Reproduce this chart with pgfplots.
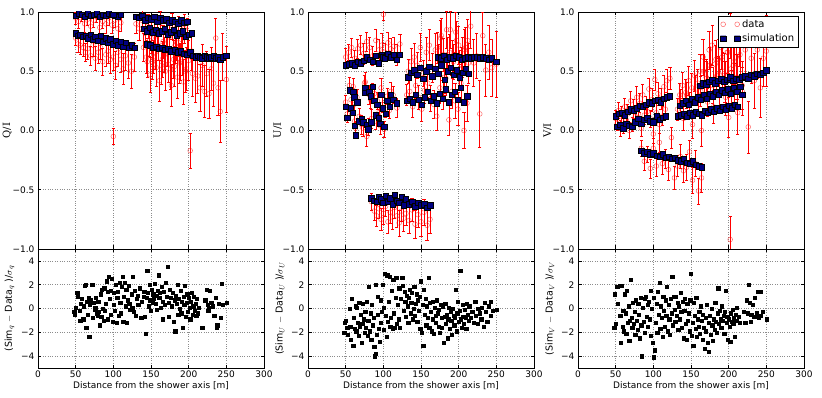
\documentclass[border=0pt]{standalone}
\usepackage{fontspec}
\setmainfont{DejaVu Sans}
\newfontfamily\serifl{DejaVu Serif}
\usepackage{pgfplots}
\usepackage{pgfplotstable}
\pgfplotsset{compat=1.18}
\definecolor{navy}{RGB}{0,0,128}

% Q/I : x, simulation, data, error
\pgfplotstableread{
x s d e
50 0.97 0.95 0.05
54 0.99 0.92 0.06
58 0.98 0.97 0.05
62 0.96 0.90 0.07
66 0.99 0.94 0.05
70 0.97 0.88 0.08
74 0.98 0.93 0.06
78 0.99 0.96 0.05
82 0.96 0.87 0.07
86 0.98 0.92 0.06
90 0.97 0.90 0.08
94 0.99 0.95 0.06
98 0.98 0.89 0.07
102 0.97 0.93 0.06
106 0.96 0.86 0.08
110 0.98 0.91 0.07
100 0.98 -0.05 0.07
50 0.82 0.78 0.06
53 0.80 0.73 0.07
56 0.81 0.72 0.08
60 0.79 0.70 0.07
63 0.80 0.66 0.08
66 0.78 0.69 0.09
70 0.81 0.63 0.08
73 0.77 0.72 0.09
76 0.79 0.61 0.10
80 0.76 0.66 0.09
83 0.80 0.70 0.10
86 0.75 0.58 0.11
90 0.78 0.64 0.10
93 0.74 0.67 0.10
96 0.77 0.60 0.12
100 0.73 0.62 0.11
103 0.76 0.55 0.12
106 0.72 0.66 0.12
110 0.75 0.60 0.11
113 0.71 0.52 0.13
116 0.74 0.63 0.12
120 0.70 0.57 0.13
124 0.72 0.50 0.14
128 0.70 0.62 0.12
130 0.96 0.90 0.08
134 0.95 0.86 0.10
138 0.97 0.93 0.09
142 0.93 0.82 0.12
146 0.95 0.88 0.10
150 0.94 0.78 0.13
154 0.96 0.85 0.11
158 0.92 0.80 0.12
162 0.95 0.91 0.10
166 0.93 0.75 0.14
170 0.94 0.84 0.12
174 0.91 0.79 0.13
178 0.93 0.88 0.11
182 0.92 0.72 0.15
186 0.90 0.83 0.13
190 0.93 0.77 0.14
194 0.91 0.86 0.12
198 0.92 0.80 0.15
140 0.86 0.70 0.12
144 0.84 0.62 0.14
148 0.87 0.76 0.13
152 0.83 0.58 0.15
156 0.85 0.66 0.14
160 0.82 0.72 0.13
164 0.84 0.55 0.16
168 0.86 0.64 0.15
172 0.81 0.68 0.14
176 0.83 0.52 0.17
180 0.85 0.60 0.16
184 0.80 0.74 0.15
188 0.82 0.57 0.17
192 0.84 0.63 0.16
196 0.79 0.50 0.18
200 0.81 0.59 0.17
204 0.82 0.67 0.16
145 0.73 0.58 0.13
149 0.72 0.47 0.15
153 0.70 0.62 0.14
157 0.71 0.53 0.16
161 0.69 0.42 0.17
165 0.70 0.60 0.15
169 0.68 0.50 0.16
173 0.69 0.56 0.15
177 0.67 0.38 0.18
181 0.68 0.54 0.17
185 0.66 0.45 0.18
189 0.67 0.58 0.16
193 0.65 0.41 0.19
197 0.64 0.52 0.18
202 0.66 -0.17 0.15
205 0.63 0.48 0.19
209 0.62 0.44 0.20
212 0.63 0.46 0.15
215 0.62 0.36 0.20
218 0.61 0.55 0.18
221 0.63 0.33 0.22
224 0.62 0.48 0.19
227 0.61 0.31 0.21
230 0.62 0.52 0.18
233 0.63 0.40 0.20
236 0.61 0.78 0.17
239 0.62 0.36 0.23
242 0.60 0.16 0.26
245 0.62 0.62 0.20
250 0.63 0.43 0.28
}\qtab

% U/I
\pgfplotstableread{
x s d e
50 0.55 0.62 0.07
54 0.56 0.66 0.07
58 0.57 0.70 0.08
62 0.55 0.61 0.07
66 0.58 0.69 0.08
70 0.57 0.72 0.08
74 0.59 0.65 0.09
78 0.62 0.75 0.08
82 0.60 0.70 0.09
86 0.58 0.63 0.08
90 0.63 0.76 0.09
94 0.57 0.68 0.09
98 0.64 0.72 0.10
100 0.62 0.98 0.05
102 0.61 0.66 0.08
106 0.65 0.74 0.09
110 0.62 0.69 0.09
114 0.64 0.71 0.08
118 0.60 0.64 0.09
122 0.64 0.73 0.08
50 0.20 0.24 0.06
52 0.11 0.14 0.07
55 0.34 0.38 0.07
57 0.19 0.26 0.07
59 0.15 0.20 0.06
60 0.33 0.37 0.07
61 0.28 0.22 0.08
62 0.04 0.08 0.06
63 -0.04 0.02 0.06
65 0.24 0.28 0.07
68 0.08 0.12 0.07
71 0.10 0.05 0.08
73 0.07 0.02 0.07
75 0.32 0.40 0.07
76 0.36 0.41 0.08
78 0.05 -0.05 0.08
80 0.01 0.03 0.07
81 0.33 0.30 0.08
83 0.29 0.26 0.07
84 0.07 0.10 0.08
86 0.37 0.33 0.07
88 0.25 0.31 0.08
90 0.13 0.08 0.07
92 0.22 0.25 0.07
94 0.11 0.15 0.08
96 0.06 0.04 0.07
97 0.30 0.36 0.08
99 0.19 0.22 0.07
101 0.03 0.01 0.07
103 0.14 0.18 0.07
105 0.25 0.29 0.07
108 0.20 0.17 0.07
110 0.30 0.33 0.08
113 0.26 0.30 0.07
118 0.23 0.19 0.08
84 -0.57 -0.60 0.07
88 -0.59 -0.68 0.08
91 -0.60 -0.72 0.09
94 -0.56 -0.66 0.08
97 -0.58 -0.75 0.09
100 -0.61 -0.70 0.09
103 -0.55 -0.64 0.08
106 -0.60 -0.77 0.10
109 -0.57 -0.69 0.09
112 -0.62 -0.73 0.10
115 -0.54 -0.65 0.09
118 -0.59 -0.72 0.10
121 -0.61 -0.78 0.11
124 -0.56 -0.68 0.09
127 -0.63 -0.74 0.11
130 -0.58 -0.70 0.10
134 -0.62 -0.76 0.11
138 -0.60 -0.67 0.10
142 -0.64 -0.79 0.12
146 -0.61 -0.71 0.11
150 -0.63 -0.77 0.12
154 -0.62 -0.69 0.11
158 -0.65 -0.80 0.13
162 -0.63 -0.75 0.12
131 0.25 0.30 0.09
135 0.27 0.33 0.10
139 0.24 0.20 0.09
143 0.30 0.38 0.11
147 0.26 0.28 0.10
151 0.22 0.18 0.10
155 0.28 0.34 0.11
159 0.33 0.40 0.12
163 0.25 0.27 0.11
167 0.29 0.22 0.12
171 0.23 0.12 0.12
175 0.31 0.36 0.13
179 0.27 0.30 0.12
183 0.35 0.44 0.14
187 0.24 0.09 0.13
191 0.30 0.33 0.14
195 0.33 0.25 0.15
199 0.26 0.18 0.14
203 0.36 0.40 0.16
207 0.24 0.00 0.15
211 0.29 0.23 0.15
133 0.45 0.50 0.10
137 0.49 0.58 0.11
141 0.51 0.62 0.12
145 0.47 0.55 0.11
149 0.53 0.70 0.12
153 0.44 0.48 0.11
157 0.50 0.66 0.13
161 0.54 0.72 0.13
165 0.46 0.53 0.12
169 0.52 0.68 0.14
173 0.48 0.60 0.13
177 0.55 0.80 0.15
181 0.43 0.45 0.14
185 0.50 0.64 0.15
189 0.53 0.85 0.16
193 0.47 0.58 0.15
197 0.51 0.76 0.16
201 0.45 0.52 0.16
205 0.49 0.62 0.17
209 0.52 0.70 0.17
213 0.48 0.57 0.17
172 0.62 0.70 0.13
176 0.61 0.78 0.15
180 0.63 0.64 0.14
184 0.60 0.85 0.16
188 0.62 0.66 0.15
192 0.61 0.60 0.16
196 0.63 0.83 0.17
200 0.62 0.72 0.16
204 0.60 0.52 0.18
208 0.61 0.68 0.17
212 0.62 0.76 0.18
216 0.61 0.88 0.19
220 0.62 0.57 0.20
224 0.62 0.63 0.19
228 0.61 0.14 0.28
232 0.62 0.80 0.20
236 0.61 0.51 0.22
240 0.60 0.66 0.23
244 0.61 0.53 0.24
250 0.58 0.56 0.28
}\utab

% V/I
\pgfplotstableread{
x s d e
50 0.12 0.10 0.07
54 0.14 0.17 0.07
58 0.15 0.12 0.08
62 0.13 0.20 0.07
66 0.16 0.14 0.08
70 0.18 0.25 0.08
74 0.17 0.18 0.08
78 0.19 0.28 0.09
82 0.21 0.23 0.08
86 0.20 0.30 0.09
90 0.22 0.20 0.09
94 0.24 0.35 0.09
98 0.23 0.26 0.10
102 0.25 0.43 0.09
106 0.26 0.31 0.10
110 0.24 0.27 0.09
114 0.27 0.37 0.10
118 0.28 0.42 0.10
122 0.29 0.44 0.09
52 0.03 0.06 0.06
56 0.05 0.02 0.07
60 0.02 0.04 0.06
64 0.06 0.09 0.07
68 0.04 0.00 0.07
72 0.03 0.05 0.06
76 0.07 0.12 0.07
80 0.10 0.14 0.08
84 0.06 0.02 0.07
88 0.09 0.13 0.08
92 0.11 0.16 0.08
96 0.08 0.10 0.07
100 0.07 -0.03 0.08
104 0.12 0.15 0.08
108 0.09 0.05 0.07
112 0.11 0.12 0.08
116 0.12 0.18 0.08
84 -0.17 -0.15 0.07
88 -0.19 -0.26 0.08
92 -0.18 -0.20 0.07
96 -0.20 -0.32 0.08
100 -0.19 -0.15 0.08
104 -0.21 -0.30 0.09
108 -0.22 -0.10 0.08
112 -0.20 -0.28 0.09
116 -0.23 -0.24 0.08
120 -0.22 -0.33 0.09
124 -0.24 -0.06 0.09
128 -0.23 -0.40 0.10
132 -0.25 -0.30 0.09
136 -0.26 -0.22 0.10
140 -0.24 -0.34 0.10
144 -0.27 -0.31 0.11
148 -0.28 -0.18 0.10
152 -0.26 -0.42 0.11
156 -0.29 -0.28 0.11
160 -0.30 -0.51 0.11
164 -0.31 -0.40 0.12
132 0.12 0.18 0.09
136 0.13 0.25 0.10
140 0.14 0.10 0.10
144 0.12 0.30 0.11
148 0.15 0.22 0.10
152 0.13 0.05 0.12
156 0.16 0.35 0.12
160 0.14 0.27 0.11
164 0.13 0.00 0.13
168 0.17 0.38 0.13
172 0.15 0.24 0.12
176 0.18 0.42 0.14
180 0.16 0.20 0.14
184 0.19 0.46 0.15
188 0.17 0.30 0.15
192 0.20 0.50 0.16
196 0.18 0.28 0.15
200 0.21 0.11 0.17
204 0.19 0.35 0.16
208 0.22 0.40 0.17
212 0.20 0.15 0.18
135 0.21 0.30 0.10
139 0.23 0.38 0.11
143 0.25 0.32 0.11
147 0.22 0.42 0.12
151 0.27 0.36 0.12
155 0.24 0.46 0.13
159 0.28 0.40 0.12
163 0.26 0.33 0.13
167 0.30 0.50 0.14
171 0.27 0.44 0.14
175 0.31 0.55 0.15
179 0.29 0.38 0.15
183 0.33 0.60 0.16
187 0.30 0.47 0.16
191 0.34 0.62 0.17
195 0.32 0.41 0.17
199 0.35 0.66 0.18
203 0.31 0.52 0.18
207 0.36 0.58 0.19
211 0.33 0.45 0.19
215 0.37 0.64 0.20
218 0.30 0.33 0.20
162 0.38 0.50 0.14
166 0.40 0.62 0.15
170 0.39 0.45 0.15
174 0.41 0.68 0.16
178 0.43 0.72 0.17
182 0.40 0.56 0.16
186 0.42 0.60 0.17
190 0.44 0.70 0.18
194 0.41 0.48 0.17
198 0.43 0.66 0.18
202 0.43 -0.92 0.20
202 0.45 0.80 0.19
206 0.42 0.55 0.18
210 0.44 0.62 0.19
214 0.43 0.74 0.20
218 0.45 0.38 0.20
222 0.46 0.68 0.21
226 0.44 0.03 0.22
230 0.47 0.61 0.21
234 0.46 0.42 0.23
238 0.48 0.68 0.24
242 0.47 0.36 0.25
246 0.49 0.61 0.24
250 0.51 0.67 0.30
}\vtab

\pgfplotsset{
 base/.style={scale only axis, width=226pt, xmin=0, xmax=300, xtick={0,50,...,300},
  grid=major, grid style={dotted, black!45, line width=0.5pt},
  tick align=inside, major tick length=3.5pt, tick style={black, line width=0.5pt},
  axis line style={line width=0.7pt}, font=\fontsize{9}{10.5}\selectfont,
  ylabel style={font=\fontsize{9.5}{11}\selectfont},
  clip marker paths=true},
 top/.style={base, height=237pt, ymin=-1, ymax=1, ytick={-1,-0.5,0,0.5,1},
  yticklabels={−1.0,−0.5,0.0,0.5,1.0}, xticklabels={},
  ylabel style={font=\serifl\fontsize{10}{11}\selectfont}, ylabel shift=-6pt},
 bot/.style={base, height=119pt, ymin=-5, ymax=5, ytick={-4,-2,0,2,4},
  yticklabels={−4,−2,0,2,4}, xticklabels={0,50,100,150,200,250,300},
  xticklabel style={yshift=1pt},
  xlabel={Distance from the shower axis [m]}, xlabel style={yshift=3pt}},
 dat/.style={only marks, mark=o, mark size=2.4pt,
  mark options={draw=red, draw opacity=0.6, line width=0.5pt},
  error bars/.cd, y dir=both, y explicit,
  error bar style={red, line width=0.6pt},
  error mark options={red, rotate=90, mark size=1.6pt, line width=0.6pt}},
 sim/.style={only marks, mark=square*, mark size=2.7pt,
  mark options={fill=navy, draw=black, line width=0.3pt}},
 res/.style={only marks, mark=square*, mark size=1.6pt,
  mark options={fill=black, draw=black}},
}

\begin{document}
\begin{tikzpicture}
\useasboundingbox (0,0) rectangle (822pt,-398pt);

% ---------- Q ----------
\begin{axis}[top, at={(38pt,-12pt)}, anchor=north west, ylabel={Q/I}]
\addplot[dat] table[x=x, y=d, y error=e] {\qtab};
\addplot[sim] table[x=x, y=s] {\qtab};
\end{axis}
\begin{axis}[bot, at={(38pt,-249pt)}, anchor=north west,
 ylabel={(Sim$_q$ $-$ Data$_q$ )/$\sigma_q$}]
\addplot[res] coordinates {
(48,-0.3) (49,-0.5) (50,0.1) (52,1.3) (53,1.0) (55,-0.2) (56,-1.0) (57,0.4) (58,0.8) (60,-0.9)
(61,0.2) (62,1.9) (63,2.0) (64,-1.6) (65,0.6) (66,-0.5) (67,0.9) (68,-2.4) (69,0.3) (70,0.7)
(72,2.0) (73,-0.8) (74,0.5) (75,-0.1) (76,0.1) (77,0.9) (78,-0.4) (79,-0.6) (80,0.6) (81,-0.3)
(82,-1.4) (83,1.2) (84,-0.7) (85,1.6) (86,0.0) (87,-1.0) (88,1.7) (89,-0.2) (90,0.4) (91,2.3)
(92,-0.9) (93,1.4) (94,2.7) (95,0.8) (96,-0.5) (97,1.5) (98,2.5) (99,-1.1) (100,0.3) (101,1.3)
(102,-0.2) (103,2.0) (104,-1.2) (105,0.9) (106,1.4) (107,-0.6) (108,2.2) (109,0.5) (110,-0.4) (111,1.8)
(112,2.7) (113,-1.1) (114,1.0) (115,2.2) (116,0.2) (117,1.6) (118,-1.2) (119,0.7) (120,1.9) (121,0.4)
(122,-0.1) (124,1.2) (125,0.1) (126,2.7) (127,-0.3) (128,1.5) (130,-0.6) (131,0.8) (132,1.1) (133,0.3)
(135,1.7) (137,-0.8) (138,0.6) (140,1.0) (141,1.4) (142,-0.7) (143,-2.1) (144,0.9) (145,3.2) (146,1.3)
(147,0.2) (148,2.0) (149,0.7) (150,-0.2) (151,1.6) (152,0.5) (153,1.2) (154,0.8) (155,2.1) (156,0.4)
(157,1.1) (158,-0.1) (159,1.5) (160,2.8) (161,0.9) (162,1.3) (163,0.1) (164,1.8) (165,0.6) (166,-0.9)
(167,1.4) (168,0.3) (170,2.2) (171,1.0) (172,3.5) (173,0.5) (174,-0.7) (175,1.6) (176,0.9) (178,0.2)
(179,1.3) (180,-1.1) (181,0.7) (182,-1.9) (183,1.1) (184,0.4) (185,2.0) (186,-0.5) (187,0.8) (188,0.0)
(189,1.5) (190,-0.4) (191,0.6) (192,-1.6) (193,1.0) (194,0.3) (195,1.9) (196,-0.7) (197,0.5) (198,1.2)
(199,-0.3) (200,0.9) (201,0.1) (202,-0.9) (203,0.6) (204,1.3) (205,-0.5) (206,0.2) (207,1.0) (208,-0.2)
(209,0.4) (210,-0.6) (211,0.8) (212,-0.4) (213,0.1) (218,-1.6) (222,0.7) (224,1.6) (225,0.3) (226,-0.2)
(227,0.1) (228,1.5) (230,0.5) (232,0.2) (234,-0.6) (236,0.9) (237,-1.6) (238,-1.4) (240,0.4) (242,-0.8)
(244,2.1) (245,0.3) (250,0.5)
};
\end{axis}

% ---------- U ----------
\begin{axis}[top, at={(308pt,-12pt)}, anchor=north west, ylabel={U/I}]
\addplot[dat] table[x=x, y=d, y error=e] {\utab};
\addplot[sim] table[x=x, y=s] {\utab};
\end{axis}
\begin{axis}[bot, at={(308pt,-249pt)}, anchor=north west,
 ylabel={(Sim$_U$ $-$ Data$_U$ )/$\sigma_U$}]
\addplot[res] coordinates {
(48,-2.0) (49,-1.2) (50,-1.0) (52,-1.6) (53,-2.2) (55,0.0) (56,-1.5) (57,-2.6) (58,0.8) (60,-3.1)
(61,-0.8) (62,-1.7) (63,0.2) (64,-1.9) (65,0.1) (66,-1.2) (67,-2.3) (68,0.5) (69,-1.5) (70,-0.5)
(71,-2.9) (72,-1.3) (73,0.4) (74,-0.9) (75,-2.0) (76,-0.3) (77,-1.6) (78,0.6) (79,-2.3) (80,-1.0)
(81,1.8) (82,-1.9) (83,-0.4) (84,-2.6) (85,0.3) (86,-1.4) (87,-0.8) (88,-3.2) (89,-4.0) (89.5,-3.8)
(90,2.0) (91,-2.2) (92,-0.5) (93,1.0) (94,-1.7) (95,-2.8) (96,0.7) (97,-1.2) (98,-0.3) (99,2.0)
(100,-1.8) (101,0.1) (102,2.9) (103,-0.6) (104,-2.4) (105,2.8) (106,-1.1) (107,0.6) (108,2.7) (109,-1.5)
(110,-0.8) (111,1.5) (112,-1.7) (113,2.4) (114,-0.4) (115,-1.6) (116,0.9) (117,2.6) (118,-1.3) (119,0.3)
(120,-0.9) (121,1.7) (122,-1.6) (123,0.8) (125,2.6) (126,1.9) (127,-0.2) (128,1.4) (129,0.6) (130,-0.7)
(131,1.1) (132,0.2) (133,-1.2) (134,0.9) (135,1.6) (136,-0.4) (137,0.5) (138,1.3) (139,-0.9) (140,0.0)
(141,1.8) (142,-0.6) (143,0.4) (144,1.2) (145,-1.1) (146,0.7) (147,-0.2) (148,1.0) (149,-1.7) (150,2.3)
(151,-2.0) (152,0.3) (153,-3.1) (154,1.6) (155,-0.5) (156,0.8) (157,-1.4) (158,0.2) (159,-0.8) (160,2.6)
(161,-1.6) (162,0.5) (163,-0.3) (164,-1.9) (165,0.6) (166,-0.9) (167,-2.1) (168,0.1) (169,-0.6) (170,-1.2)
(171,0.7) (172,-0.4) (173,-1.5) (174,-0.1) (175,-2.0) (176,0.3) (177,-0.8) (178,-1.6) (179,0.2) (180,-2.9)
(181,-0.7) (182,0.4) (183,-1.3) (184,-0.5) (185,-2.5) (186,-0.9) (187,0.1) (188,-1.7) (189,-0.3) (190,-1.0)
(191,-2.2) (192,0.0) (193,-0.6) (194,-1.4) (195,-0.8) (196,1.6) (197,-1.9) (198,-0.4) (199,0.6) (200,-1.1)
(201,-0.2) (202,3.2) (203,-0.9) (204,-1.6) (205,0.3) (206,-0.7) (207,-1.3) (208,-0.1) (209,-0.8) (210,-1.7)
(211,0.4) (212,-0.5) (213,-1.0) (214,0.2) (216,-0.8) (218,-0.3) (220,-1.2) (222,0.6) (223,-0.6) (225,-1.3)
(226,0.0) (227,2.7) (228,-0.4) (230,-0.9) (231,0.1) (233,-1.5) (235,0.5) (236,-0.3) (238,-1.1) (240,0.2)
(242,-0.6) (243,0.6) (245,-0.2) (250,-0.1)
};
\end{axis}

% ---------- V ----------
\begin{axis}[top, at={(578pt,-12pt)}, anchor=north west, ylabel={V/I},
 legend style={at={(0.975,0.985)}, anchor=north east, draw=black, fill=white,
  font=\fontsize{10}{11.5}\selectfont, inner sep=2pt, row sep=1pt,
  cells={anchor=west}}]
\addplot[legend image code/.code={
  \draw[red, opacity=0.6, line width=0.5pt] (0pt,0pt) circle[radius=2.4pt] (14pt,0pt) circle[radius=2.4pt];},
 dat] table[x=x, y=d, y error=e] {\vtab};
\addlegendentry{data}
\addplot[legend image code/.code={
  \filldraw[fill=navy, draw=black, line width=0.3pt] (-2.7pt,-2.7pt) rectangle (2.7pt,2.7pt) (11.3pt,-2.7pt) rectangle (16.7pt,2.7pt);},
 sim] table[x=x, y=s] {\vtab};
\addlegendentry{simulation}
\end{axis}
\begin{axis}[bot, at={(578pt,-249pt)}, anchor=north west,
 ylabel={(Sim$_V$ $-$ Data$_V$ )/$\sigma_V$}]
\addplot[res] coordinates {
(48,-1.6) (49,1.2) (50,-1.3) (52,1.8) (53,0.4) (55,1.9) (56,-0.6) (57,-2.9) (58,1.9) (59,-1.5)
(60,-0.2) (61,-1.9) (62,1.2) (63,-0.4) (64,-2.1) (65,1.5) (66,-1.2) (67,0.2) (68,-2.7) (69,-1.0)
(70,2.4) (71,-0.8) (72,-1.6) (73,0.5) (74,-1.3) (75,-0.3) (76,-2.2) (77,0.7) (78,-1.0) (79,-1.8)
(80,0.4) (81,-0.5) (82,-2.5) (83,0.9) (84,-1.4) (85,-4.0) (86,0.1) (87,-1.1) (88,0.8) (89,-2.0)
(90,1.0) (91,-0.7) (92,0.3) (93,-1.5) (94,0.6) (95,-0.9) (96,1.5) (97,-2.3) (98,0.0) (99,-2.9)
(100,-4.1) (101,0.9) (102,-3.5) (103,-1.2) (104,0.4) (105,-2.0) (106,1.4) (107,-0.5) (108,2.2) (109,-1.7)
(110,0.2) (111,-0.8) (112,-2.4) (113,1.0) (114,-0.2) (115,-1.5) (116,0.7) (117,-0.6) (118,1.8) (119,-1.9)
(120,0.3) (121,-0.9) (122,-2.2) (123,0.8) (124,-0.4) (125,2.7) (126,-1.4) (127,1.0) (128,-0.1) (129,-1.1)
(130,1.0) (131,-0.6) (132,0.5) (133,-1.8) (134,0.2) (135,-0.9) (136,1.3) (137,-0.3) (138,-1.6) (139,0.6)
(140,-2.5) (141,-0.2) (142,0.8) (143,-1.3) (144,-2.6) (145,0.4) (146,-1.0) (147,-0.4) (148,-1.9) (149,0.7)
(150,2.9) (151,-2.3) (152,-1.2) (153,-3.1) (154,0.5) (155,-0.6) (156,-1.7) (157,0.9) (158,-2.4) (159,-0.9)
(160,-1.5) (161,-0.3) (162,-2.1) (163,0.2) (164,-1.0) (165,-2.6) (166,-0.5) (167,-1.6) (168,-3.4) (169,-0.8)
(170,-1.9) (171,0.3) (172,-2.9) (173,-1.2) (174,-3.6) (175,-0.6) (176,-2.2) (177,0.0) (178,-1.4) (179,-2.7)
(180,-0.9) (181,-1.8) (182,0.5) (183,-1.1) (184,-2.0) (185,-0.4) (186,1.7) (187,-1.3) (188,-0.2) (189,-0.9)
(190,-1.6) (191,0.2) (192,-1.0) (193,-0.6) (194,-2.1) (195,-0.3) (196,1.5) (197,-1.2) (198,-0.7) (199,-2.6)
(200,-0.9) (201,-1.5) (202,-2.8) (203,-0.4) (204,-1.1) (205,-0.1) (206,-1.3) (207,-0.8) (208,-2.4) (209,-0.5)
(210,-1.0) (211,0.1) (213,-0.7) (215,-1.2) (220,-0.3) (222,-1.2) (224,0.7) (225,-0.4) (227,2.0) (228,0.5)
(229,-1.1) (230,-0.5) (232,0.3) (234,-0.7) (235,0.9) (237,-0.4) (238,1.4) (240,-0.8) (242,1.4) (243,-0.6)
(245,-0.3) (250,-0.9)
};
\end{axis}
\end{tikzpicture}
\end{document}
